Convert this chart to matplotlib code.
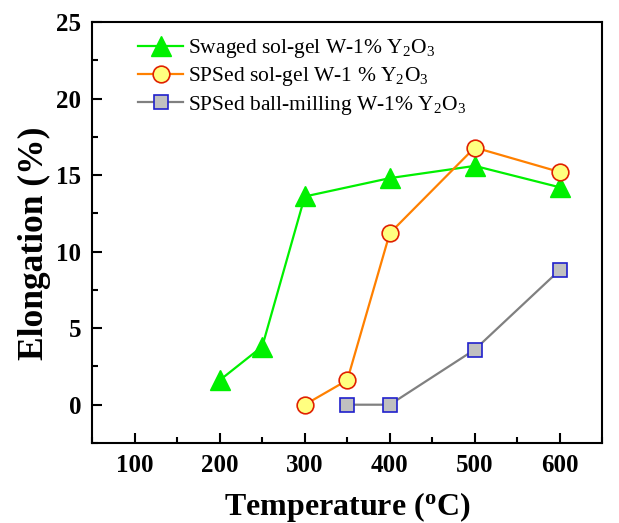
import matplotlib
matplotlib.use("Agg")
import matplotlib.pyplot as plt
from matplotlib.ticker import MultipleLocator

plt.rcParams['font.family'] = ['Liberation Serif', 'DejaVu Serif']
plt.rcParams['mathtext.fontset'] = 'custom'
plt.rcParams['mathtext.rm'] = 'Liberation Serif'
plt.rcParams['mathtext.it'] = 'Liberation Serif:italic'
plt.rcParams['mathtext.bf'] = 'Liberation Serif:bold'

# Data
swaged_T = [200, 250, 300, 400, 500, 600]
swaged_E = [1.6, 3.8, 13.6, 14.8, 15.6, 14.2]
sps_solgel_T = [300, 350, 400, 500, 600]
sps_solgel_E = [0.0, 1.6, 11.2, 16.8, 15.2]
sps_ball_T = [350, 400, 500, 600]
sps_ball_E = [0.0, 0.0, 3.6, 8.8]
labels = ["Swaged sol-gel W-1% Y$_2$O$_3$",
          "SPSed sol-gel W-1 % Y$_2$O$_3$",
          "SPSed ball-milling W-1% Y$_2$O$_3$"]

fig = plt.figure(figsize=(6.19, 5.23), dpi=100)
ax = fig.add_axes([0.149, 0.153, 0.824, 0.805])

ax.plot(swaged_T, swaged_E, '-^', color='#00F000', lw=1.6, ms=14,
        mfc='#00F000', mec='#00F000', label=labels[0])
ax.plot(sps_solgel_T, sps_solgel_E, '-o', color='#FF8000', lw=1.6, ms=12,
        mfc='#FFFF80', mec='#E02000', mew=1.2, label=labels[1])
ax.plot(sps_ball_T, sps_ball_E, '-s', color='#808080', lw=1.6, ms=10,
        mfc='#C0C0C0', mec='#2020CC', mew=1.2, label=labels[2])

ax.set_xlim(50, 650)
ax.set_ylim(-2.5, 25)
ax.xaxis.set_major_locator(MultipleLocator(100))
ax.xaxis.set_minor_locator(MultipleLocator(50))
ax.yaxis.set_major_locator(MultipleLocator(5))
ax.yaxis.set_minor_locator(MultipleLocator(2.5))
ax.tick_params(which='both', direction='in', top=False, right=False, width=1.5)
ax.tick_params(which='major', length=7, labelsize=18, pad=8)
ax.tick_params(which='minor', length=4)
for lab in ax.get_xticklabels() + ax.get_yticklabels():
    lab.set_fontweight('bold')
for sp in ax.spines.values():
    sp.set_linewidth(1.5)

ax.set_xlabel("Temperature ($^{\\mathbf{o}}$C)", fontsize=23, fontweight='bold')
ax.xaxis.set_label_coords(0.5, -0.112)
ax.set_ylabel("Elongation (%)", fontsize=25.5, fontweight='bold')
ax.yaxis.set_label_coords(-0.08, 0.475)

ax.legend(loc='upper left', bbox_to_anchor=(0.06, 1.0), frameon=False,
          fontsize=15.5, handlelength=2.1, handletextpad=0.25, labelspacing=0.25,
          borderaxespad=0.3)

fig.savefig('out.png', dpi=100)
